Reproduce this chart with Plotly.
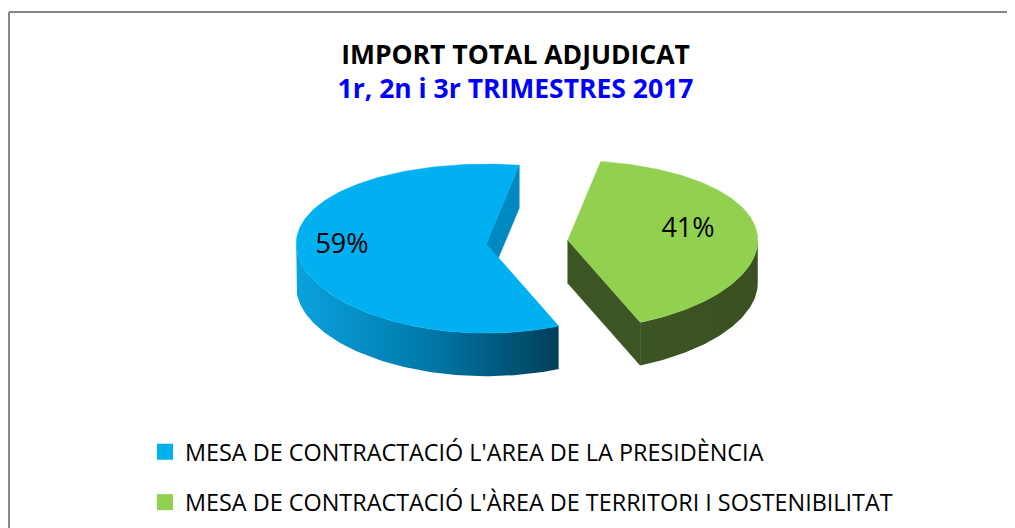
import numpy as np
import plotly.graph_objects as go

# ---------------- data ----------------
labels = ["MESA DE CONTRACTACIÓ L'AREA DE LA PRESIDÈNCIA",
          "MESA DE CONTRACTACIÓ L'ÀREA DE TERRITORI I SOSTENIBILITAT"]
values = [59, 41]
title_line1 = "IMPORT TOTAL ADJUDICAT"
title_line2 = "1r, 2n i 3r TRIMESTRES 2017"

# ---------------- style ----------------
top_colors = ["#00B0F0", "#92D050"]
wall_fills = [
    dict(type="horizontal", colorscale=[[0, "#0aa2de"], [0.5, "#0079aa"], [1, "#003f5a"]]),
    dict(type="horizontal", colorscale=[[0, "#3d5424"], [1, "#3a5020"]]),
]
cut_colors = ["#0088c0", "#3d5424"]
FONT = "Open Sans"

W, H = 1015, 528
OFF = 8                     # page body margin: figure is drawn 8px right/down
cx, cy = 527.0, 242.0       # pie centre (screen pixel units)
R, D = 190.0, 43.0          # radius, depth
S_BACK, S_FRONT = 0.42, 0.47  # vertical squash (back / front, mimics perspective)
EXPLODE = 41.0
START = 10.0                # start angle (deg, clockwise from 12 o'clock)
LABEL_R = 0.7
LABEL_DX, LABEL_DY = -12, -4

fig = go.Figure()

total = float(sum(values))
cum = START
rad = np.radians


def squash(theta):
    c = np.cos(rad(theta))
    return 0.5 * (S_BACK + S_FRONT) + 0.5 * (S_BACK - S_FRONT) * c


def pt(theta, rho, h, ox, oy):
    t = rad(theta)
    return cx + ox + rho * np.sin(t), cy + oy - squash(theta) * rho * np.cos(t) + h


label_x, label_y, label_t = [], [], []
for i, v in enumerate(values):
    span = 360.0 * v / total
    a1 = cum
    a0 = cum - span
    cum = a0
    mid = 0.5 * (a0 + a1)
    ox = EXPLODE * np.sin(rad(mid))
    oy = -S_BACK * EXPLODE * np.cos(rad(mid))

    # outer wall: front-facing portions (cos(theta) < 0)
    for k in range(-2, 3):
        lo = max(a0, 90 + 360 * k)
        hi = min(a1, 270 + 360 * k)
        if hi > lo:
            th = np.linspace(lo, hi, 90)
            xt, yt = pt(th, R, 0, ox, oy)
            xb, yb = pt(th[::-1], R, D, ox, oy)
            fig.add_trace(go.Scatter(
                x=np.concatenate([xt, xb, xt[:1]]), y=np.concatenate([yt, yb, yt[:1]]),
                mode="lines", fill="toself", line=dict(width=0),
                fillgradient=wall_fills[i], hoverinfo="skip", showlegend=False))

    # radial cut walls, if facing the viewer
    for edge, normal in ((a1, a1 + 90), (a0, a0 - 90)):
        if np.cos(rad(normal)) < 0:
            vx, vy = pt(0, 0, 0, ox, oy)
            ax_, ay_ = pt(edge, R, 0, ox, oy)
            fig.add_trace(go.Scatter(
                x=[vx, ax_, ax_, vx, vx], y=[vy, ay_, ay_ + D, vy + D, vy],
                mode="lines", fill="toself", fillcolor=cut_colors[i],
                line=dict(width=0.5, color=cut_colors[i]),
                hoverinfo="skip", showlegend=False))

    # top face
    th = np.linspace(a0, a1, 160)
    xa, ya = pt(th, R, 0, ox, oy)
    vx, vy = pt(0, 0, 0, ox, oy)
    fig.add_trace(go.Scatter(
        x=np.concatenate([[vx], xa, [vx]]), y=np.concatenate([[vy], ya, [vy]]),
        mode="lines", fill="toself", fillcolor=top_colors[i],
        line=dict(width=0.5, color=top_colors[i]),
        hoverinfo="skip", showlegend=False))

    lx, ly = pt(mid, LABEL_R * R, 0, ox, oy)
    label_x.append(lx + LABEL_DX)
    label_y.append(ly + LABEL_DY)
    label_t.append(f"{round(100 * v / total)}%")

# percentage labels
fig.add_trace(go.Scatter(
    x=label_x, y=label_y, text=label_t, mode="text",
    textfont=dict(family=FONT, size=27, color="#000000"),
    hoverinfo="skip", showlegend=False))

# legend entries
for i, lab in enumerate(labels):
    fig.add_trace(go.Scatter(
        x=[None], y=[None], mode="markers", name=lab, legendgroup=str(i),
        marker=dict(symbol="square", size=16, color=top_colors[i])))

fig.update_layout(
    width=W, height=H,
    margin=dict(l=0, r=0, t=0, b=0),
    paper_bgcolor="white", plot_bgcolor="white",
    xaxis=dict(range=[OFF, W + OFF], visible=False, fixedrange=True),
    yaxis=dict(range=[H + OFF, OFF], visible=False, fixedrange=True),
    title=dict(
        text=f"<b>{title_line1}</b><br><b><span style='color:#0000ff'>{title_line2}</span></b>",
        font=dict(family=FONT, size=26.5, color="#000000"),
        x=0.5, xanchor="center", y=1 - 56 / H, yanchor="top", yref="paper"),
    legend=dict(
        x=137 / W, xanchor="left", y=1 - 422 / H, yanchor="top",
        font=dict(family=FONT, size=23.4, color="#000000"),
        tracegroupgap=17, bgcolor="rgba(0,0,0,0)"),
    showlegend=True,
    shapes=[
        dict(type="line", xref="paper", yref="paper", x0=1 / W, x1=1, y0=1 - 4 / H, y1=1 - 4 / H,
             line=dict(color="#878787", width=2)),
        dict(type="line", xref="paper", yref="paper", x0=1 / W, x1=1 / W, y0=0, y1=1 - 4 / H,
             line=dict(color="#878787", width=2)),
    ],
)

fig.write_html("out.html")
